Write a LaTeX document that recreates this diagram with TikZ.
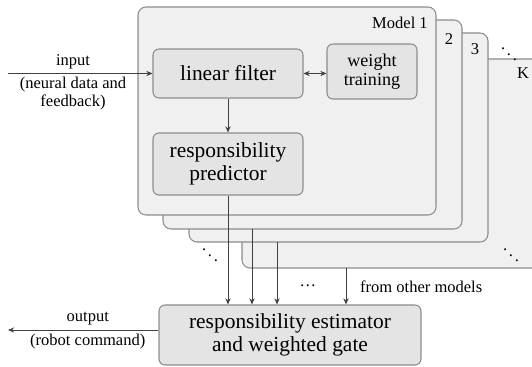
\documentclass[tikz,border=0pt]{standalone}
\usepackage{fontspec}
\setmainfont{Liberation Serif}
\usetikzlibrary{arrows.meta}
\definecolor{modelfill}{HTML}{F0F0F0}
\definecolor{boxfill}{HTML}{E4E4E4}
\definecolor{edgegray}{HTML}{8C8C8C}
\definecolor{wiregray}{HTML}{404040}

\begin{document}
\begin{tikzpicture}[x=0.02cm, y=-0.02cm,
    model/.style={draw=edgegray, fill=modelfill, line width=0.6pt, rounded corners=0.16cm},
    block/.style={draw=edgegray, fill=boxfill, line width=0.6pt, rounded corners=0.12cm,
        align=center, inner sep=0pt, font=\fontsize{12.2}{12.8}\selectfont},
    small/.style={font=\fontsize{9.4}{9.8}\selectfont, align=center},
    wire/.style={draw=wiregray, line width=0.5pt, -{Stealth[length=3.5pt,width=3pt]}}]
        \clip (0,0) rectangle (532,367);
        % stacked models, back to front
        \draw[model] (242,59) rectangle (580,268);
        \draw[model] (189,33) rectangle (488,242);
        \draw[model] (163,20) rectangle (462,229);
        \draw[model] (138,7) rectangle (436,215);
        \node[small] at (400,23) {Model 1};
        \node[small] at (449,39) {2};
        \node[small] at (475,49) {3};
        \node[small] at (523,73) {K};
        \node[small] at (509,49) {$\ddots$};
        \node[small] at (210,250) {$\ddots$};
        \node[small] at (511,250) {$\ddots$};
        % blocks
        \node[block, minimum width=3cm, minimum height=0.98cm] (filter) at (228,73.5) {linear filter};
        \node[block, minimum width=1.8cm, minimum height=1.1cm, font=\fontsize{10.3}{11}\selectfont] (training) at (372,71.5) {weight\\training};
        \node[block, minimum width=3cm, minimum height=1.24cm] (predictor) at (228,164) {responsibility\\predictor};
        \node[block, minimum width=5.24cm, minimum height=1.2cm] (gate) at (290,335) {responsibility estimator\\and weighted gate};
        % connections
        \coordinate (in) at (8,73.5);
        \coordinate (out) at (8,330);
        \coordinate (t2) at (252,229);
        \coordinate (t3) at (277,242);
        \coordinate (tK) at (346,268);
        \draw[wire] (in) -- (filter.west)
            node[pos=0.45, above, small, inner sep=2.5pt] {input}
            node[pos=0.45, below, small, inner sep=2pt] {(neural data and\\feedback)};
        \draw[wire, {Stealth[length=3.5pt,width=3pt]}-{Stealth[length=3.5pt,width=3pt]}] (filter.east) -- (filter.east -| training.west);
        \draw[wire] (filter.south) -- (predictor.north);
        \draw[wire] (predictor.south) -- (predictor.south |- gate.north);
        \draw[wire] (t2) -- (t2 |- gate.north);
        \draw[wire] (t3) -- (t3 |- gate.north);
        \draw[wire] (tK) -- (tK |- gate.north);
        \node[small] at (308,286) {\dots};
        \node[small, anchor=west] at (354,287) {from other models};
        \draw[wire] (out -| gate.west) -- (out)
            node[pos=0.47, above, small, inner sep=2.5pt] {output}
            node[pos=0.47, below, small, inner sep=2pt] {(robot command)};
    \end{tikzpicture}
\end{document}
